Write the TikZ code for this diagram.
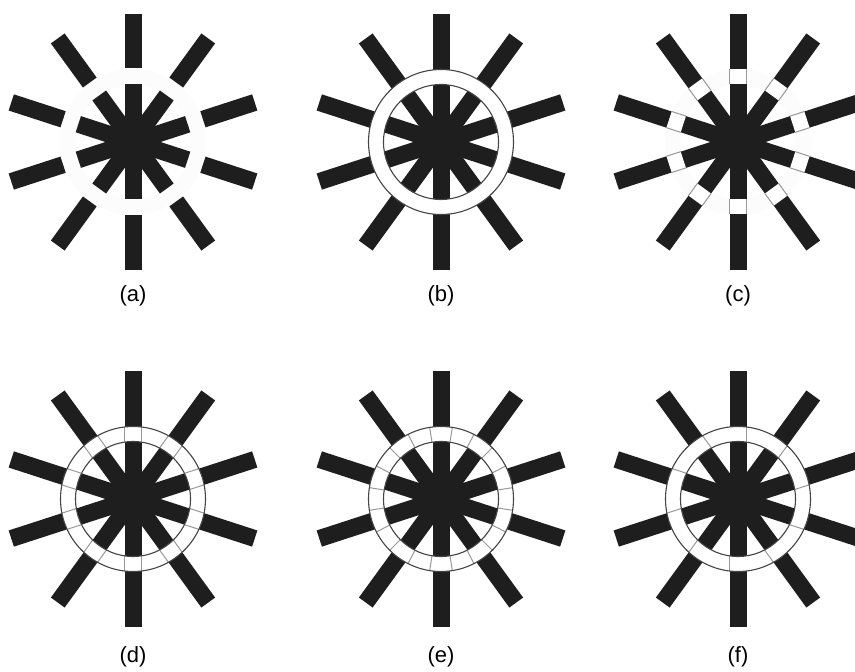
\documentclass[tikz,border=0pt]{standalone}
\usepackage{fontspec}
\setmainfont{Liberation Sans}
\definecolor{spokecol}{HTML}{1E1E1E}
\definecolor{ringcol}{HTML}{444444}
\definecolor{tickcol}{HTML}{999999}
\definecolor{halo}{HTML}{FCFCFC}
\newcommand\spokeangles{90,54,18,-18,-54,-90,-126,-162,162,126}
\begin{document}
\begin{tikzpicture}[x=1pt,y=1pt,
  spokefill/.style={fill=spokecol},
  ringstyle/.style={fill=white, draw=ringcol, line width=1.1pt, even odd rule},
  tickline/.style={draw=tickcol, line width=1pt},
  lab/.style={font=\fontsize{22}{26}\selectfont, inner sep=0pt}]
\useasboundingbox (0,0) rectangle (855,672);
\clip (0,0) rectangle (855,672);

% (a) spokes interrupted by an empty ring
\begin{scope}[shift={(133,530)}]
  \fill[halo, even odd rule] (0,0) circle (73) (0,0) circle (57);
  \foreach \a in \spokeangles {
    \path[spokefill, rotate=\a] (0,-8.5) rectangle (57.5,8.5);
    \path[spokefill, rotate=\a] (73.5,-8.5) rectangle (128,8.5);
  }
\end{scope}

% (b) spokes hidden by a white ring
\begin{scope}[shift={(441,530)}]
  \foreach \a in \spokeangles {
    \path[spokefill, rotate=\a] (0,-8.5) rectangle (128,8.5);
  }
  \path[ringstyle] (0,0) circle (72.5) (0,0) circle (57.5);
\end{scope}

% (c) white gaps within each spoke
\begin{scope}[shift={(738,530)}]
  \fill[halo, even odd rule] (0,0) circle (73) (0,0) circle (57);
  \foreach \a in \spokeangles {
    \path[spokefill, rotate=\a] (0,-8.5) rectangle (128,8.5);
    \fill[white, rotate=\a] (57.5,-8.5) rectangle (72.5,8.5);
    \path[tickline, rotate=\a] (57.5,-8.5) -- (72.5,-8.5) (57.5,8.5) -- (72.5,8.5);
  }
\end{scope}

% (d) ring with lines at both spoke edges
\begin{scope}[shift={(133,173)}]
  \foreach \a in \spokeangles {
    \path[spokefill, rotate=\a] (0,-8.5) rectangle (128,8.5);
  }
  \fill[white, even odd rule] (0,0) circle (72.5) (0,0) circle (57.5);
  \foreach \a in \spokeangles {
    \path[tickline, rotate=\a] (56.9,-8.5) -- (72,-8.5) (56.9,8.5) -- (72,8.5);
  }
  \draw[ringcol, line width=1.1pt] (0,0) circle (72.5) (0,0) circle (57.5);
\end{scope}

% (e) ring divided into 20 equal cells
\begin{scope}[shift={(441,173)}]
  \foreach \a in \spokeangles {
    \path[spokefill, rotate=\a] (0,-8.5) rectangle (128,8.5);
  }
  \fill[white, even odd rule] (0,0) circle (72.5) (0,0) circle (57.5);
  \foreach \b in {9,27,...,351} {
    \path[tickline, rotate=\b] (57.5,0) -- (72.5,0);
  }
  \draw[ringcol, line width=1.1pt] (0,0) circle (72.5) (0,0) circle (57.5);
\end{scope}

% (f) ring with a line at one edge of each spoke
\begin{scope}[shift={(738,173)}]
  \foreach \a in \spokeangles {
    \path[spokefill, rotate=\a] (0,-8.5) rectangle (128,8.5);
  }
  \fill[white, even odd rule] (0,0) circle (72.5) (0,0) circle (57.5);
  \foreach \a in \spokeangles {
    \path[tickline, rotate=\a] (56.9,-8.5) -- (72,-8.5);
  }
  \draw[ringcol, line width=1.1pt] (0,0) circle (72.5) (0,0) circle (57.5);
\end{scope}

\node[lab] (la) at (133,376) {(a)};
\node[lab] (lb) at (441,376) {(b)};
\node[lab] (lc) at (738,376) {(c)};
\node[lab] (ld) at (133,15) {(d)};
\node[lab] (le) at (441,15) {(e)};
\node[lab] (lf) at (738,15) {(f)};
\end{tikzpicture}
\end{document}
